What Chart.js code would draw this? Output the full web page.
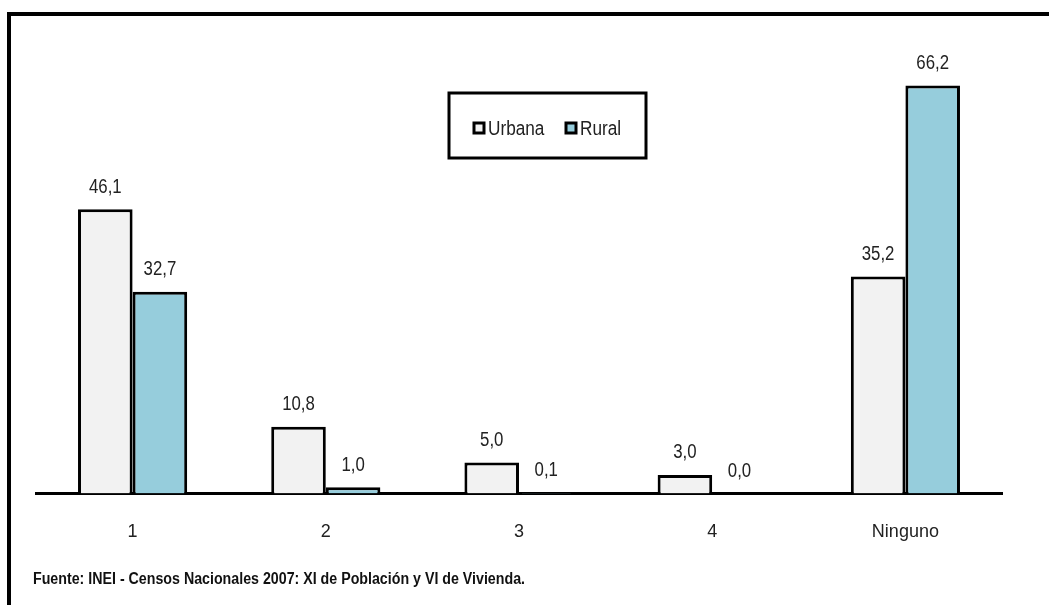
<!DOCTYPE html>
<html>
<head>
<meta charset="utf-8">
<script src="https://cdn.jsdelivr.net/npm/chart.js@4/dist/chart.umd.min.js"></script>
<style>
  html, body { margin: 0; padding: 0; background: #fff; }
  #wrap { width: 1049px; height: 605px; position: relative; }
</style>
</head>
<body>
<div id="wrap"><canvas id="chart"></canvas></div>
<script>
const categories = ['1', '2', '3', '4', 'Ninguno'];
const urbana = [46.1, 10.8, 5.0, 3.0, 35.2];
const rural = [32.7, 1.0, 0.1, 0.0, 66.2];
const sourceText = 'Fuente: INEI - Censos Nacionales 2007: XI de Población y VI de Vivienda.';

const family = '"Liberation Sans", Arial, sans-serif';

// the original uses a narrow face; squeeze the regular one horizontally
function narrowText(ctx, txt, x, y, align, sx) {
    ctx.save();
    ctx.translate(x, y);
    ctx.scale(sx, 1);
    ctx.textAlign = align;
    ctx.fillText(txt, 0, 0);
    ctx.restore();
}

// frame, value labels, legend box and source line
const decorations = {
    id: 'decorations',
    afterDatasetsDraw(chart) {
        const ctx = chart.ctx;
        ctx.save();
        ctx.font = '20px ' + family;
        ctx.fillStyle = '#222';
        ctx.textBaseline = 'middle';
        chart.data.datasets.forEach((ds, i) => {
            chart.getDatasetMeta(i).data.forEach((bar, j) => {
                const txt = ds.data[j].toFixed(1).replace('.', ',');
                narrowText(ctx, txt, bar.x, bar.y - 22, 'center', 0.84);
            });
        });

        // legend box
        ctx.lineWidth = 3;
        ctx.strokeStyle = '#000';
        ctx.strokeRect(449, 93, 197, 65);
        const items = [
            { x: 474, label: 'Urbana', color: chart.data.datasets[0].backgroundColor },
            { x: 566, label: 'Rural', color: chart.data.datasets[1].backgroundColor }
        ];
        items.forEach(it => {
            ctx.fillStyle = it.color;
            ctx.fillRect(it.x, 123, 10, 10);
            ctx.lineWidth = 3;
            ctx.strokeRect(it.x, 123, 10, 10);
            ctx.fillStyle = '#222';
            narrowText(ctx, it.label, it.x + 14, 129, 'left', 0.86);
        });

        // source
        ctx.font = 'bold 16px ' + family;
        ctx.fillStyle = '#111';
        const w = ctx.measureText(sourceText).width;
        narrowText(ctx, sourceText, 33, 580, 'left', 492 / w);

        // frame
        ctx.lineWidth = 4;
        ctx.strokeStyle = '#000';
        ctx.beginPath();
        ctx.moveTo(1049, 14);
        ctx.lineTo(9, 14);
        ctx.lineTo(9, 605);
        ctx.stroke();
        ctx.restore();
    }
};

new Chart(document.getElementById('chart'), {
    type: 'bar',
    data: {
        labels: categories,
        datasets: [
            { label: 'Urbana', data: urbana, backgroundColor: '#f2f2f2', borderColor: '#000', borderWidth: 3 },
            { label: 'Rural', data: rural, backgroundColor: '#96cddc', borderColor: '#000', borderWidth: 3 }
        ]
    },
    options: {
        responsive: true,
        maintainAspectRatio: false,
        animation: false,
        categoryPercentage: 0.565,
        barPercentage: 1,
        layout: { padding: { left: 36, right: 47, top: 62, bottom: 42 } },
        plugins: {
            legend: { display: false },
            tooltip: { enabled: false }
        },
        scales: {
            x: {
                grid: { display: false },
                border: { display: true, color: '#000', width: 3 },
                ticks: { color: '#222', font: { size: 18, family: family }, padding: 20 }
            },
            y: {
                display: false,
                min: 0,
                max: 70
            }
        }
    },
    plugins: [decorations]
});
</script>
</body>
</html>
